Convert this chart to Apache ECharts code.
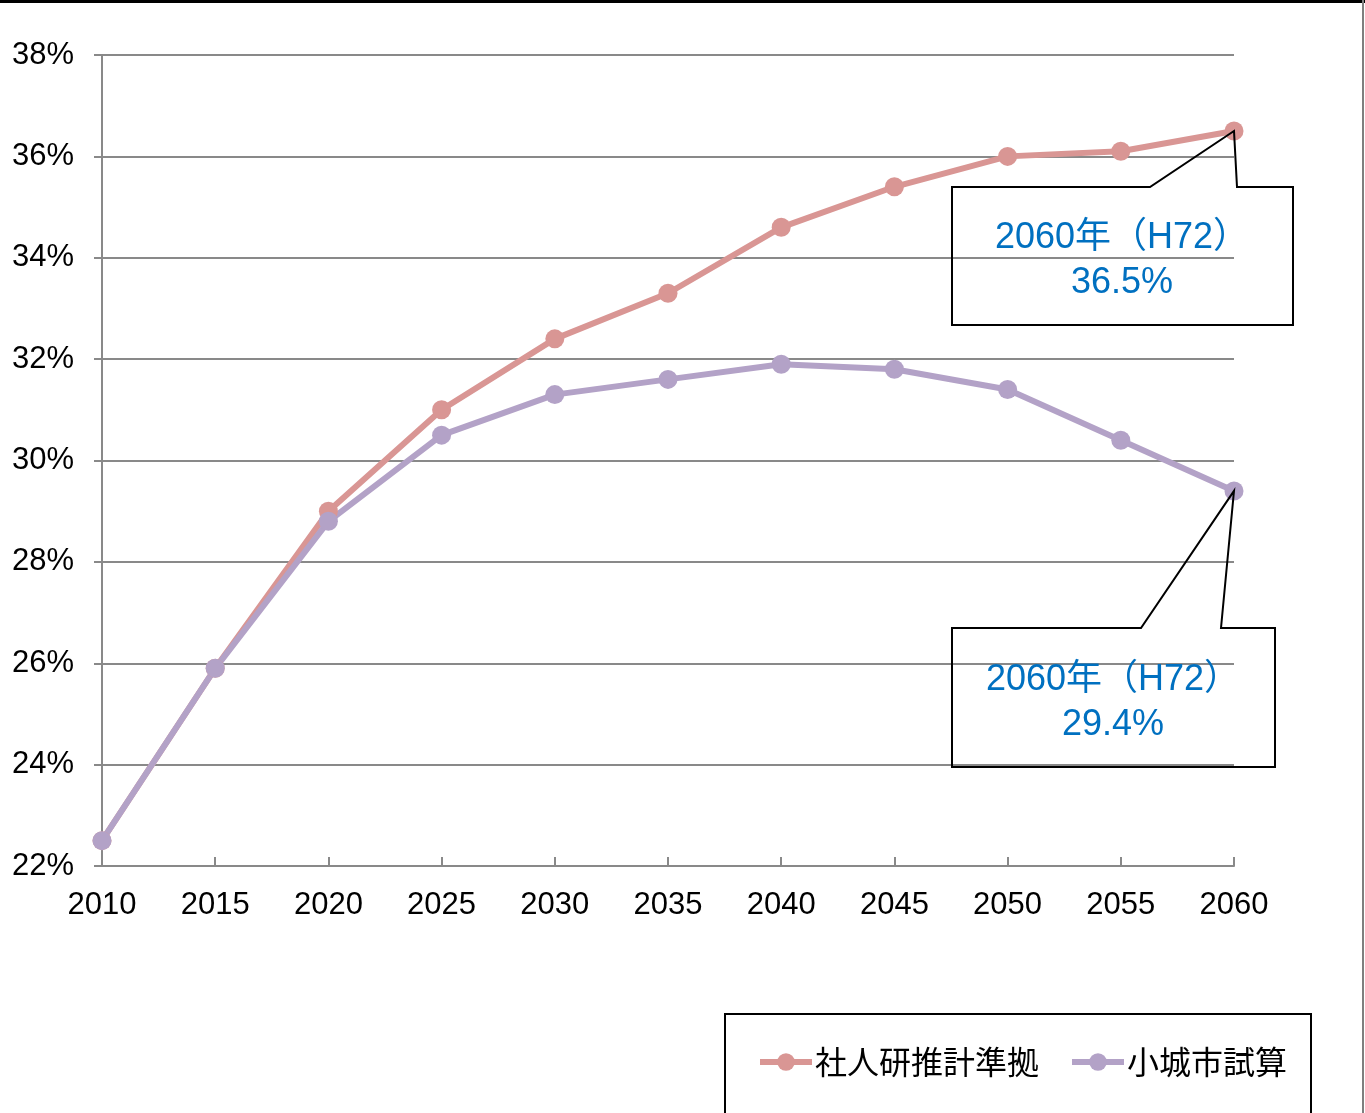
<!DOCTYPE html>
<html>
<head>
<meta charset="utf-8">
<script src="https://cdn.jsdelivr.net/npm/echarts@6/dist/echarts.min.js"></script>
<style>
  html, body { margin: 0; padding: 0; background: #fff; }
  #main { width: 1365px; height: 1113px; }
</style>
</head>
<body>
<div id="main"></div>
<script>
// data
const years = ['2010', '2015', '2020', '2025', '2030', '2035', '2040', '2045', '2050', '2055', '2060']
const shajinken = [22.5, 25.9, 29.0, 31.0, 32.4, 33.3, 34.6, 35.4, 36.0, 36.1, 36.5]
const ojiya = [22.5, 25.9, 28.8, 30.5, 31.3, 31.6, 31.9, 31.8, 31.4, 30.4, 29.4]
const seriesNames = ['社人研推計準拠', '小城市試算']
const calloutTexts = ['2060年（H72）\n36.5%', '2060年（H72）\n29.4%']

const gridColor = '#898989'
const jpFont = '"Noto Sans CJK JP", sans-serif'
const numFont = '"Liberation Sans", Arial, sans-serif'
const mixFont = '"Liberation Sans", "Noto Sans CJK JP", sans-serif'

let myChart = echarts.init(document.getElementById('main'))

function makeSeries (name, data, color) {
  return {
    name: name,
    type: 'line',
    data: data,
    color: color,
    symbol: 'circle',
    symbolSize: 19,
    lineStyle: { width: 6, color: color },
    itemStyle: { color: color },
    emphasis: { disabled: true },
    z: 3
  }
}

myChart.setOption({
  animation: false,
  grid: {
    left: 102,
    right: 131,
    top: 55,
    bottom: 247,
    containLabel: false
  },
  legend: {
    left: 725,
    top: 1014,
    orient: 'horizontal',
    itemWidth: 52,
    itemHeight: 22,
    itemGap: 30,
    padding: [32, 24, 60, 32],
    borderColor: '#000',
    borderWidth: 2,
    lineStyle: { width: 6 },
    textStyle: { fontSize: 32, color: '#000', fontFamily: jpFont, padding: [0, 0, 0, -2] },
    data: seriesNames
  },
  xAxis: {
    type: 'category',
    boundaryGap: false,
    data: years,
    axisLine: { lineStyle: { color: gridColor, width: 2 } },
    axisTick: { inside: true, length: 9, lineStyle: { color: gridColor, width: 2 }, alignWithLabel: true },
    axisLabel: { fontSize: 31, color: '#000', fontFamily: numFont, margin: 24, interval: 0 },
    splitLine: { show: false }
  },
  yAxis: {
    type: 'value',
    min: 22,
    max: 38,
    interval: 2,
    axisLine: { show: true, lineStyle: { color: gridColor, width: 2 } },
    axisTick: { show: true, length: 8, lineStyle: { color: gridColor, width: 2 } },
    axisLabel: { formatter: '{value}%', fontSize: 31, color: '#000', fontFamily: numFont, margin: 28 },
    splitLine: { lineStyle: { color: gridColor, width: 2 } }
  },
  series: [
    makeSeries(seriesNames[0], shajinken, '#D99694'),
    makeSeries(seriesNames[1], ojiya, '#B3A2C7')
  ]
})

// callouts: boxes placed in the layout, pointer tips taken from the chart's own scale
const last = years.length - 1
const tip1 = myChart.convertToPixel({ seriesIndex: 0 }, [last, shajinken[last]])
const tip2 = myChart.convertToPixel({ seriesIndex: 1 }, [last, ojiya[last]])

function callout (box, baseL, baseR, tip, text, textX, textY) {
  return [
    {
      type: 'polygon',
      z: 10,
      shape: {
        points: [
          [box.x, box.y], [baseL, box.y], tip, [baseR, box.y],
          [box.x + box.w, box.y], [box.x + box.w, box.y + box.h], [box.x, box.y + box.h]
        ]
      },
      style: { fill: 'none', stroke: '#000', lineWidth: 2 }
    },
    {
      type: 'text',
      z: 11,
      x: textX,
      y: textY,
      style: {
        text: text,
        fill: '#0070C0',
        font: '36px ' + mixFont,
        align: 'center',
        verticalAlign: 'middle',
        lineHeight: 45
      }
    }
  ]
}

myChart.setOption({
  graphic: [
    { type: 'rect', z: 20, shape: { x: 0, y: 0, width: 1365, height: 3 }, style: { fill: '#000' } },
    { type: 'rect', z: 20, shape: { x: 1362, y: 0, width: 2, height: 1113 }, style: { fill: '#7f7f7f' } }
  ].concat(
    callout({ x: 952, y: 187, w: 341, h: 138 }, 1150, 1237, tip1, calloutTexts[0], 1122, 261),
    callout({ x: 952, y: 628, w: 323, h: 139 }, 1141, 1221, tip2, calloutTexts[1], 1113, 703)
  )
})
</script>
</body>
</html>
